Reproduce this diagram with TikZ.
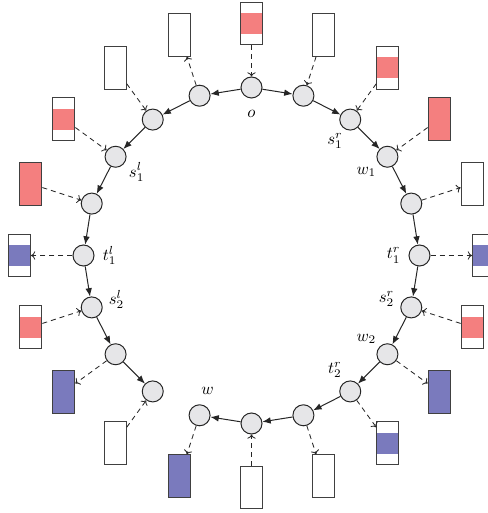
\documentclass[tikz,border=0pt]{standalone}
\usetikzlibrary{arrows.meta}
\definecolor{pinkc}{RGB}{244,127,127}
\definecolor{bluec}{RGB}{122,122,189}
\definecolor{nodec}{RGB}{230,230,232}
\begin{document}
\begin{tikzpicture}[x=0.6pt,y=0.6pt,
  state/.style={circle,draw=black!85,fill=nodec,line width=0.6pt,minimum size=12.6pt,inner sep=0pt},
  slot/.style={rectangle,draw=black!75,line width=0.65pt,minimum width=13.2pt,minimum height=25.5pt,inner sep=0pt},
  emptyslot/.style={slot},
  fullpink/.style={slot,fill=pinkc},
  fullblue/.style={slot,fill=bluec},
  bandpink/.style={slot,path picture={\fill[pinkc] ([yshift=-6.4pt]path picture bounding box.north west) rectangle ([yshift=6.4pt]path picture bounding box.south east);}},
  bandblue/.style={slot,path picture={\fill[bluec] ([yshift=-6.4pt]path picture bounding box.north west) rectangle ([yshift=6.4pt]path picture bounding box.south east);}},
  flow/.style={-{Latex[length=5pt,width=4pt]},line width=0.6pt,draw=black!85},
  feed/.style={-{To[length=2.5pt,width=5pt]},dash pattern=on 3pt off 2.4pt,line width=0.5pt,draw=black!85},
  lab/.style={inner sep=0pt}
]
\useasboundingbox (-251.5,-257.5) rectangle (235.5,255.5);
\foreach \k/\s in {0/bandpink,1/emptyslot,2/bandpink,3/fullpink,4/emptyslot,5/bandblue,6/bandpink,7/fullblue,8/bandblue,9/emptyslot,10/emptyslot,11/fullblue,12/emptyslot,13/fullblue,14/bandpink,15/bandblue,16/fullpink,17/bandpink,18/emptyslot,19/emptyslot}{
  \node[state] (n\k) at ({90-18*\k}:168) {};
  \node[\s] (b\k) at ({90-18*\k}:232) {};
}
\foreach \k in {0,1,2,3,6,10,12,14,16,17,18} \draw[feed] (b\k) -- (n\k);
\foreach \k in {4,5,7,8,9,11,13,15,19} \draw[feed] (n\k) -- (b\k);
\foreach \k [evaluate=\k as \j using int(\k+1)] in {0,...,10} \draw[flow] (n\k) -- (n\j);
\draw[flow] (n0) -- (n19);
\foreach \k [evaluate=\k as \j using int(\k-1)] in {19,18,...,13} \draw[flow] (n\k) -- (n\j);
\node[lab] (l0) at (90:142) {$o$};
\node[lab] (l2) at (54:142) {$s_1^r$};
\node[lab] (l3) at (36:142) {$w_1$};
\node[lab] (l5) at (0:142) {$t_1^r$};
\node[lab] (l6) at (-18:142) {$s_2^r$};
\node[lab] (l7) at (-36:142) {$w_2$};
\node[lab] (l8) at (-54:142) {$t_2^r$};
\node[lab] (l11) at (-108:142) {$w$};
\node[lab] (l15) at (180:142) {$t_1^l$};
\node[lab] (l14) at (198:142) {$s_2^l$};
\node[lab] (l17) at (144:142) {$s_1^l$};
\end{tikzpicture}
\end{document}
